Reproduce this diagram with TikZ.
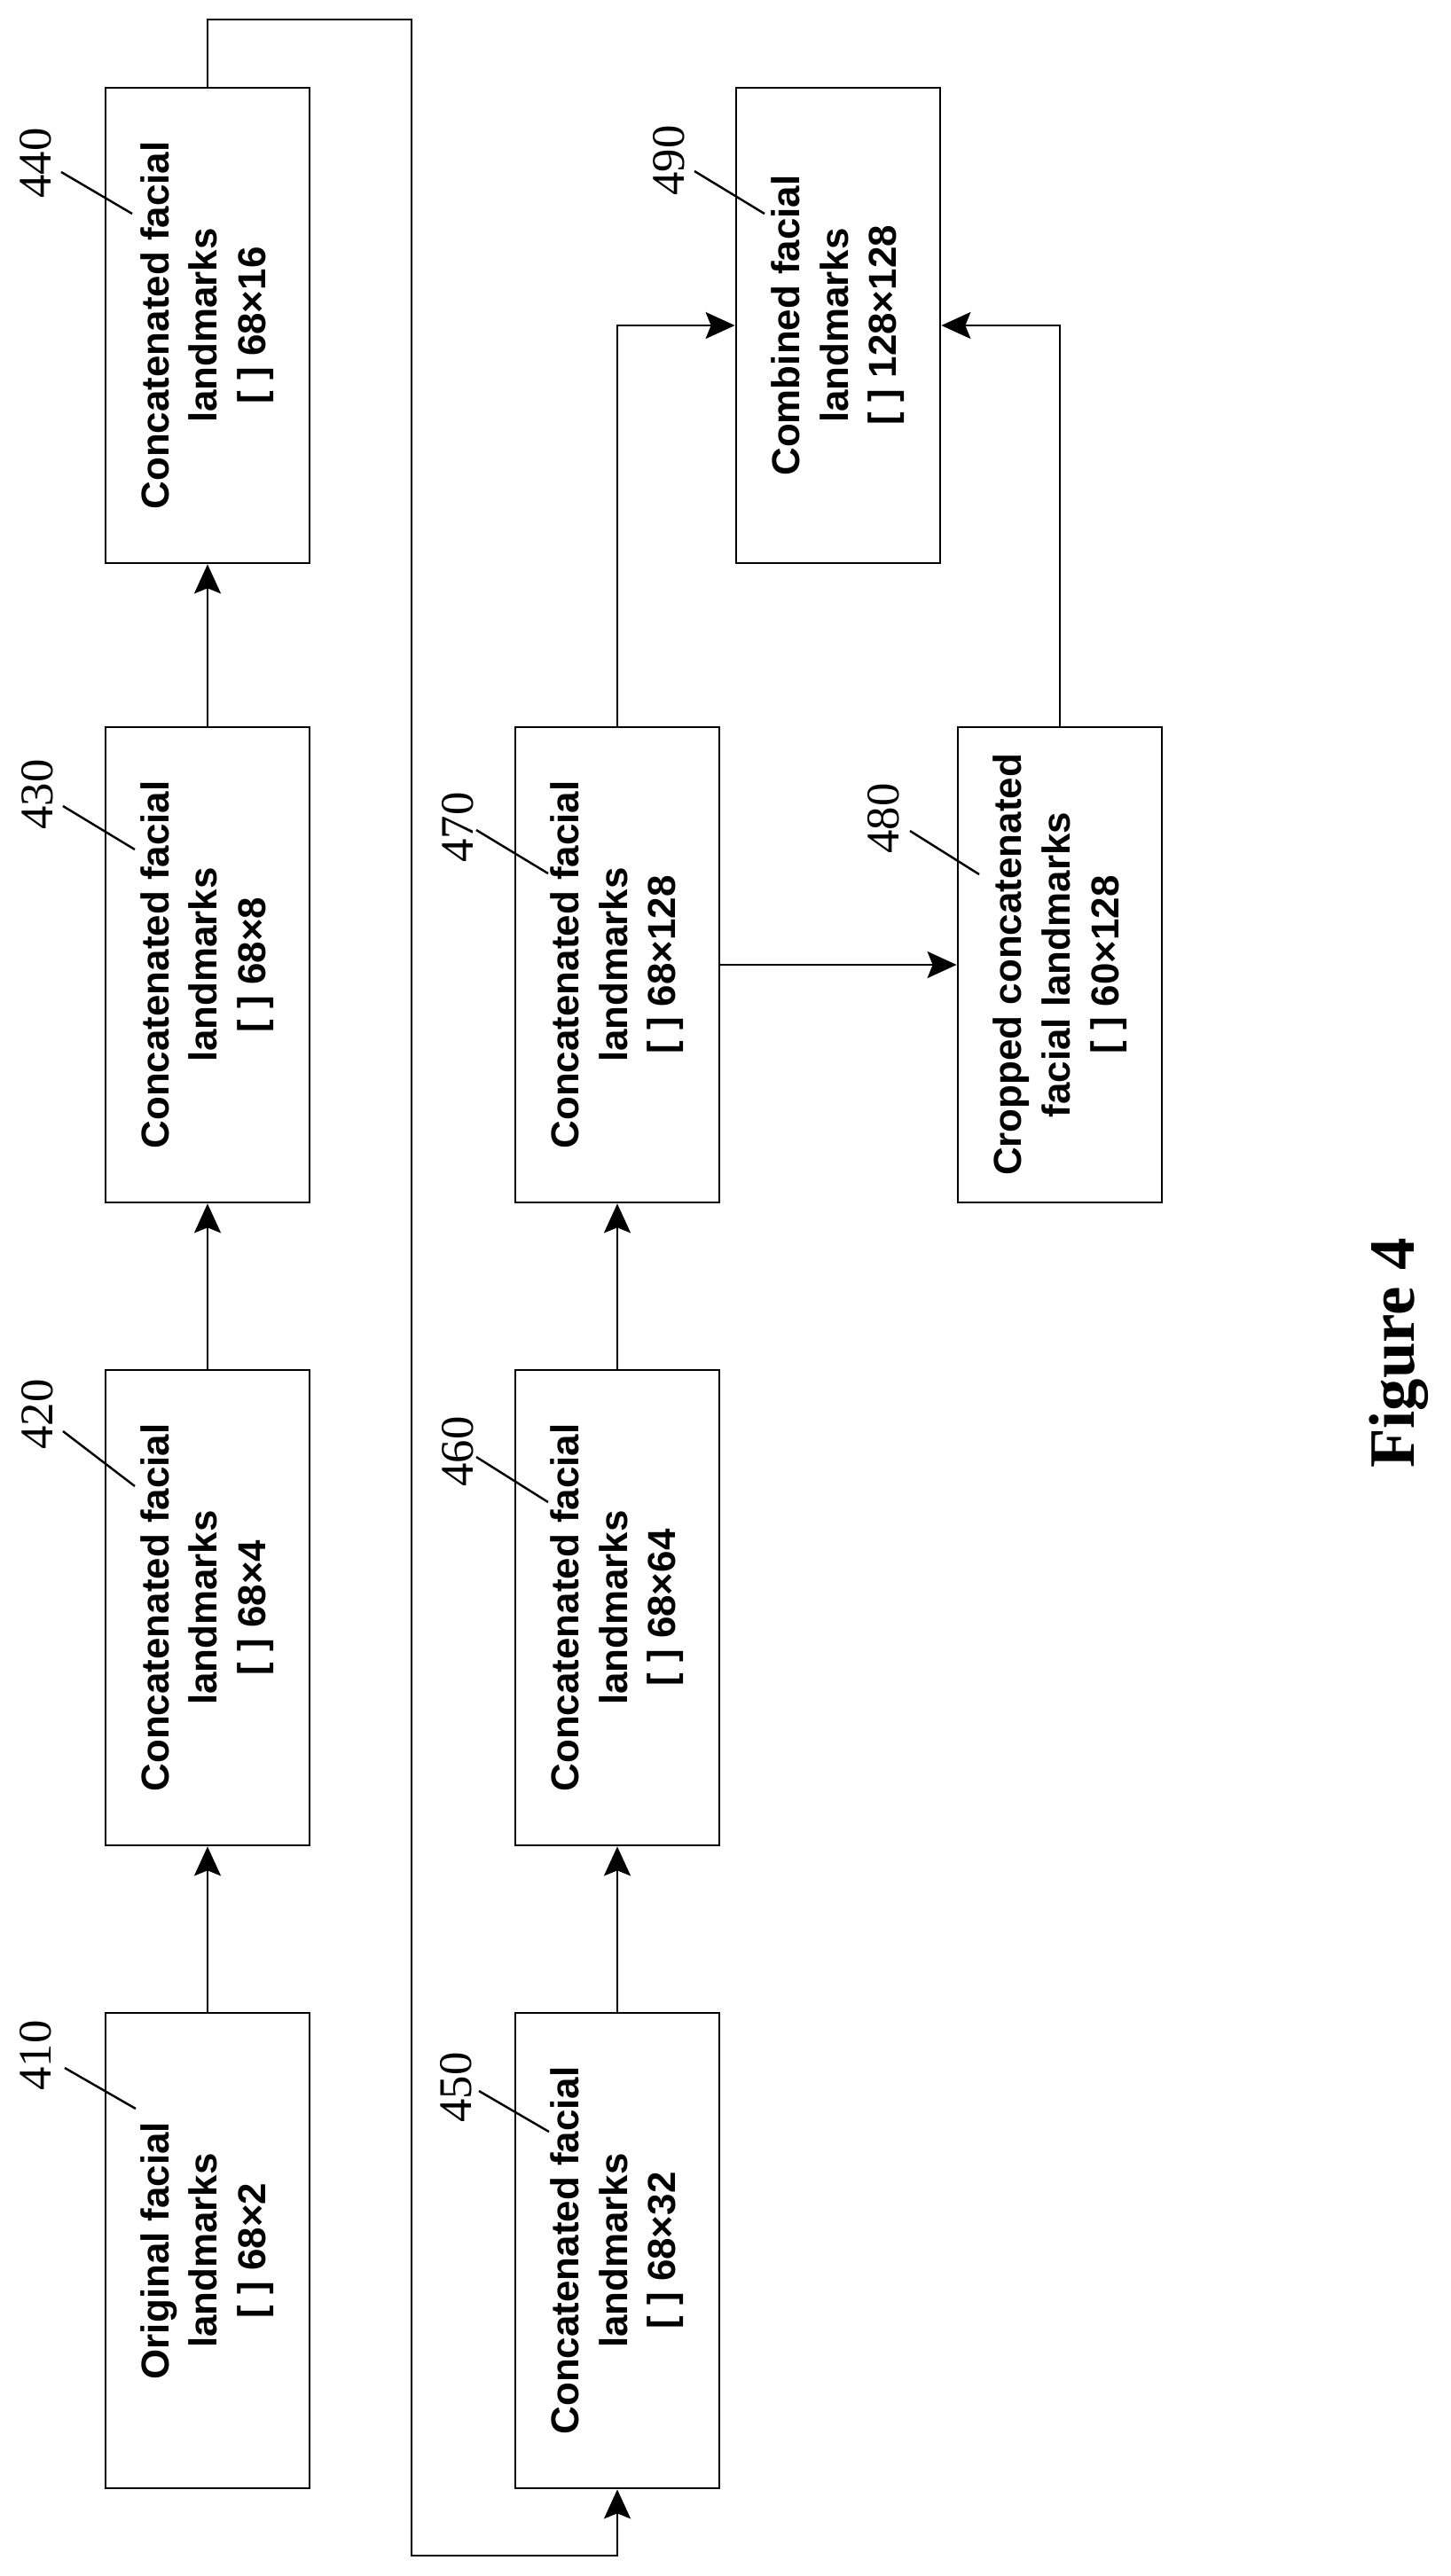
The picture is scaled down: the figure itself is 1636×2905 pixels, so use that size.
\documentclass[tikz,border=0pt]{standalone}
\usepackage{fontspec}
\setmainfont{Liberation Serif}
\newfontfamily\boxfont{Liberation Sans}
\usetikzlibrary{arrows.meta}
\begin{document}
\begin{tikzpicture}[x=0.02cm,y=-0.02cm,
  box/.style={draw,line width=1.6pt,minimum width=4.6cm,minimum height=10.72cm,inner sep=0pt},
  txt/.style={font=\boxfont\bfseries\fontsize{25}{31.3}\selectfont,inner sep=0pt},
  lab/.style={font=\fontsize{30}{32}\selectfont,rotate=90,inner sep=0pt},
  lead/.style={line width=1.4pt},
  con/.style={line width=1.4pt},
  arr/.style={con,-{Stealth[length=0.66cm,width=0.6cm,inset=0.12cm]}}]
\useasboundingbox (0,0) rectangle (1636,2905);
\newcommand{\bx}[4]{\node[box] (b#1) at (#2,#3) {};
  \node[txt] (t#1) at (#2,#3) {\rotatebox{90}{\begin{tabular}{@{}c@{}}#4\end{tabular}}};}
\bx{410}{234}{2538}{Original facial\\landmarks\\{[ ]} 68×2}
\bx{420}{234}{1813}{Concatenated facial\\landmarks\\{[ ]} 68×4}
\bx{430}{234}{1088}{Concatenated facial\\landmarks\\{[ ]} 68×8}
\bx{440}{234}{367}{Concatenated facial\\landmarks\\{[ ]} 68×16}
\bx{450}{696}{2538}{Concatenated facial\\landmarks\\{[ ]} 68×32}
\bx{460}{696}{1813}{Concatenated facial\\landmarks\\{[ ]} 68×64}
\bx{470}{696}{1088}{Concatenated facial\\landmarks\\{[ ]} 68×128}
\bx{480}{1195}{1088}{Cropped concatenated\\facial landmarks\\{[ ]} 60×128}
\bx{490}{945}{367}{Combined facial\\landmarks\\{[ ]} 128×128}
% labels
\newcommand{\lb}[7]{\node[lab] (l#1) at (#2,#3) {#1};
  \coordinate (la#1) at (#4,#5); \coordinate (lb#1) at (#6,#7);
  \draw[lead] (la#1) -- (lb#1);}
\lb{410}{40}{2318}{73}{2332}{153}{2378}
\lb{420}{42}{1595}{71}{1614}{152}{1676}
\lb{430}{42}{896}{71}{909}{152}{958}
\lb{440}{40}{184}{69}{194}{149}{241}
\lb{450}{514}{2354}{540}{2358}{619}{2404}
\lb{460}{516}{1637}{537}{1643}{618}{1694}
\lb{470}{516}{933}{537}{936}{618}{985}
\lb{480}{996}{923}{1026}{937}{1104}{986}
\lb{490}{754}{181}{783}{193}{862}{241}
% connectors
\draw[arr] (b410.north) -- (b420.south);
\draw[arr] (b420.north) -- (b430.south);
\draw[arr] (b430.north) -- (b440.south);
\coordinate (c1) at (234,22);
\coordinate (c2) at (464,22);
\coordinate (c3) at (464,2882);
\coordinate (c4) at (696,2882);
\draw[arr] (b440.north) -- (c1) -- (c2) -- (c3) -- (c4) -- (b450.south);
\draw[arr] (b450.north) -- (b460.south);
\draw[arr] (b460.north) -- (b470.south);
\draw[arr] (b470.east) -- (b480.west);
\draw[arr] (b470.north) |- (b490.west);
\draw[arr] (b480.north) |- (b490.east);
\node[font=\bfseries\fontsize{41.5}{44}\selectfont,rotate=90,inner sep=0pt] (fig) at (1577,1526) {Figure 4};
\end{tikzpicture}
\end{document}
